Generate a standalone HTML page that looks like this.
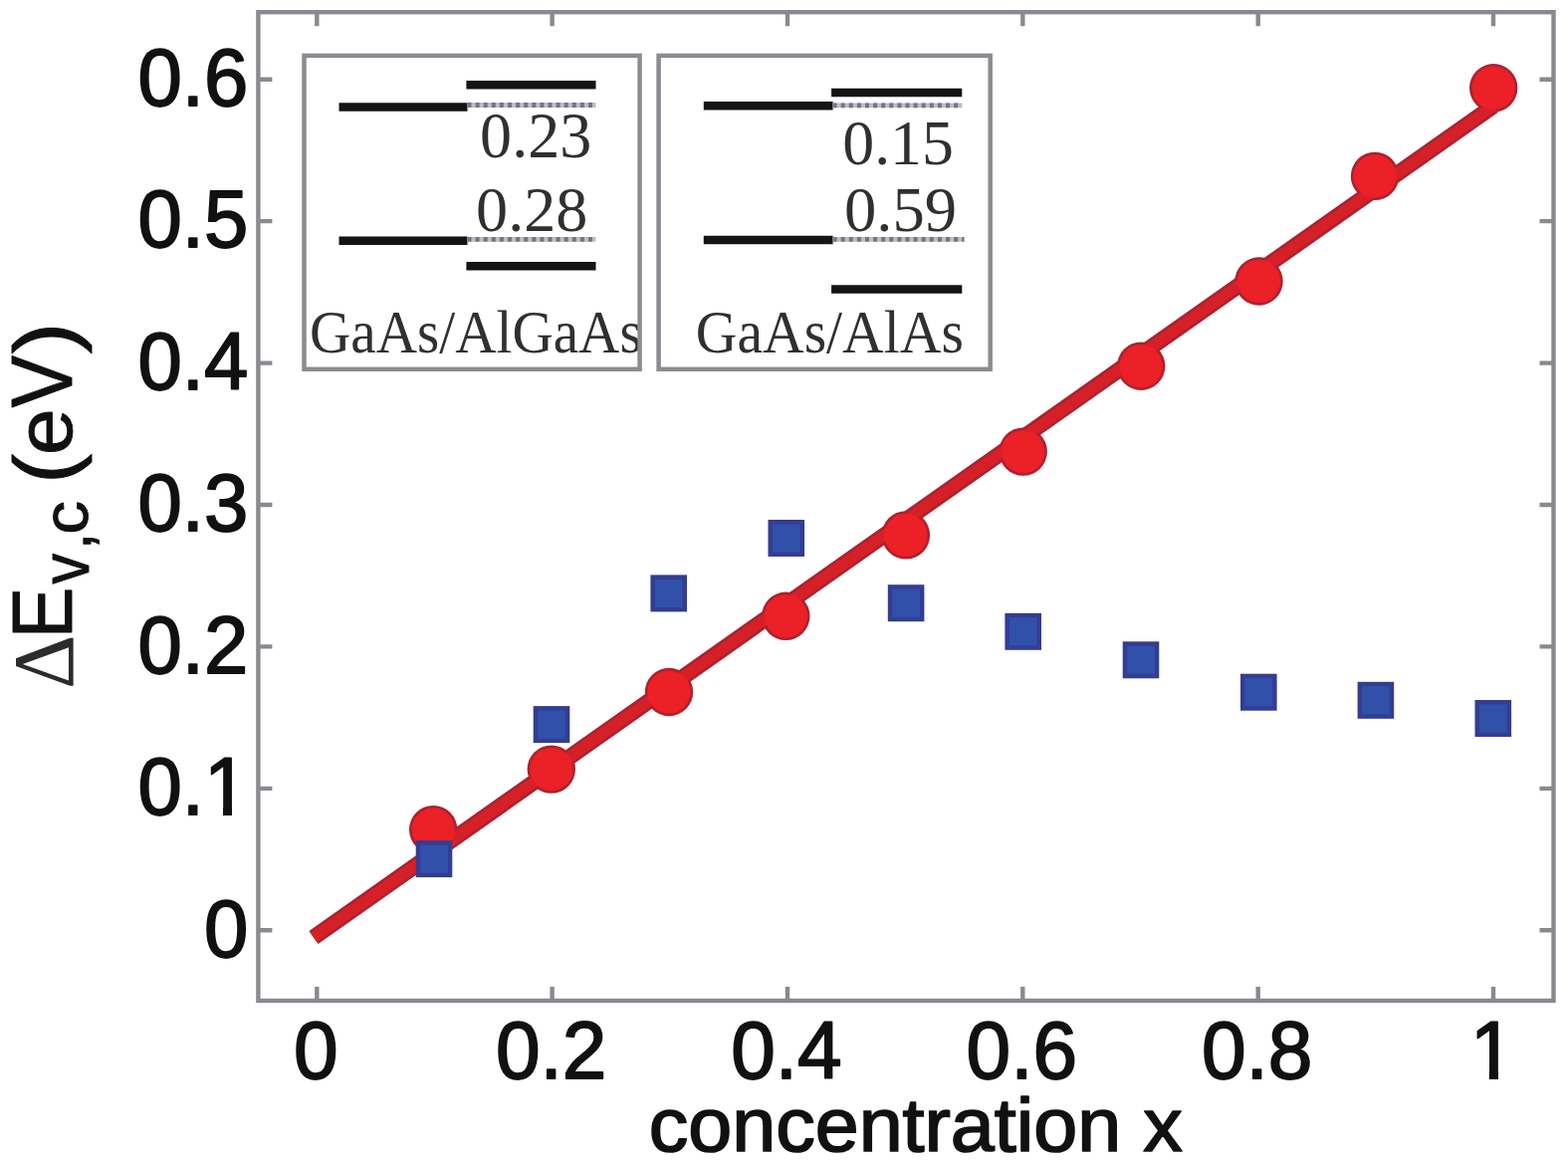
<!DOCTYPE html>
<html><head><meta charset="utf-8"><title>Band offsets vs concentration</title><style>
html,body{margin:0;padding:0;background:#fff;overflow:hidden}
svg{display:block}
.s{font-family:"Liberation Sans",Arial,sans-serif}
.r{font-family:"Liberation Serif","Times New Roman",serif}
</style></head><body>
<svg width="1575" height="1166" viewBox="0 0 1575 1166">
<defs><clipPath id="cy01" clipPathUnits="userSpaceOnUse"><rect x="0" y="0" width="356.55" height="1000"/><rect x="0" y="0" width="1600" height="392.05"/><rect x="374.34" y="391.05" width="9.15" height="30"/></clipPath><clipPath id="cx1" clipPathUnits="userSpaceOnUse"><rect x="0" y="0" width="379.06" height="1000"/><rect x="0" y="0" width="1600" height="392.05"/><rect x="396.85" y="391.05" width="9.15" height="30"/></clipPath></defs>
<rect width="1575" height="1166" fill="#fff"/>
<g stroke="#888a90" stroke-width="4.4" fill="none">
<rect x="259.4" y="12.2" width="1301.1" height="992.8"/>
<path d="M259.4 934.3h14M1560.5 934.3h-14M259.4 791.9h14M1560.5 791.9h-14M259.4 649.4h14M1560.5 649.4h-14M259.4 507.0h14M1560.5 507.0h-14M259.4 364.6h14M1560.5 364.6h-14M259.4 222.1h14M1560.5 222.1h-14M259.4 79.7h14M1560.5 79.7h-14M318.3 1005.0v-14M318.3 12.2v14M554.6 1005.0v-14M554.6 12.2v14M791.0 1005.0v-14M791.0 12.2v14M1027.3 1005.0v-14M1027.3 12.2v14M1263.7 1005.0v-14M1263.7 12.2v14M1500.0 1005.0v-14M1500.0 12.2v14"/>
</g>
<path d="M468.4 85.3H598.5" stroke="#141414" stroke-width="8.5"/>
<path d="M340.5 107.5H469.5" stroke="#141414" stroke-width="8.5"/>
<path d="M469.5 105.5H598.5" stroke="#bdbec1" stroke-width="4.8"/>
<path d="M469.5 105.5H598.5" stroke="#747782" stroke-width="4.8" stroke-dasharray="4 4.1"/>
<path d="M340.5 241.8H469.5" stroke="#141414" stroke-width="8.5"/>
<path d="M469.5 240.4H598.5" stroke="#bdbec1" stroke-width="4.8"/>
<path d="M469.5 240.4H598.5" stroke="#747782" stroke-width="4.8" stroke-dasharray="4 4.1"/>
<path d="M468.4 267.3H598.5" stroke="#141414" stroke-width="8.5"/>
<path d="M835.1 93.1H966.3" stroke="#141414" stroke-width="8.5"/>
<path d="M706.8 106.2H836.6" stroke="#141414" stroke-width="8.5"/>
<path d="M836.6 105.8H966.3" stroke="#bdbec1" stroke-width="4.8"/>
<path d="M836.6 105.8H966.3" stroke="#747782" stroke-width="4.8" stroke-dasharray="4 4.1"/>
<path d="M706.8 241.0H836.6" stroke="#141414" stroke-width="8.5"/>
<path d="M836.6 240.4H968.5" stroke="#bdbec1" stroke-width="4.8"/>
<path d="M836.6 240.4H968.5" stroke="#747782" stroke-width="4.8" stroke-dasharray="4 4.1"/>
<path d="M835.1 290.6H966.3" stroke="#141414" stroke-width="8.5"/>
<g transform="translate(81.34 -248.87) scale(1.0019 1.0167)"><text class="r" x="400" y="400" font-size="64" text-anchor="start" fill="#303030">0.23</text></g>
<g transform="translate(77.34 -164.74) scale(1.0019 0.9929)"><text class="r" x="400" y="400" font-size="64" text-anchor="start" fill="#303030">0.28</text></g>
<g transform="translate(446.96 -236.80) scale(0.9981 1.0048)"><text class="r" x="400" y="400" font-size="64" text-anchor="start" fill="#303030">0.15</text></g>
<g transform="translate(443.82 -166.50) scale(1.0104 0.9952)"><text class="r" x="400" y="400" font-size="64" text-anchor="start" fill="#303030">0.59</text></g>
<g transform="translate(-97.51 -77.50) scale(1.0214 1.0800)"><text class="r" x="400" y="400" font-size="56" text-anchor="start" fill="#303030">GaAs/AlGaAs</text></g>
<g transform="translate(286.76 -77.50) scale(1.0300 1.0800)"><text class="r" x="400" y="400" font-size="56" text-anchor="start" fill="#303030">GaAs/AlAs</text></g>
<g fill="none" stroke="#8a8c91" stroke-width="4.5"><rect x="305.5" y="55.9" width="337.1" height="314.9"/><rect x="661.6" y="55.9" width="333.1" height="314.9"/></g>
<path d="M315.0 941.5L1500.0 106.5" stroke="#ad2130" stroke-width="16.0" fill="none"/>
<g fill="#ad2130"><circle cx="435.2" cy="833.2" r="24.2"/><circle cx="553.8" cy="772.6" r="24.2"/><circle cx="672.0" cy="695.0" r="24.2"/><circle cx="789.3" cy="618.8" r="24.2"/><circle cx="909.9" cy="537.4" r="24.2"/><circle cx="1027.7" cy="453.6" r="24.2"/><circle cx="1146.2" cy="367.7" r="24.2"/><circle cx="1264.5" cy="282.5" r="24.2"/><circle cx="1381.0" cy="176.9" r="24.2"/><circle cx="1500.2" cy="88.3" r="24.2"/></g>
<path d="M315.0 941.5L1500.0 106.5" stroke="#d62027" stroke-width="10.8" fill="none"/>
<g fill="#ec2027"><circle cx="435.2" cy="833.2" r="21.6"/><circle cx="553.8" cy="772.6" r="21.6"/><circle cx="672.0" cy="695.0" r="21.6"/><circle cx="789.3" cy="618.8" r="21.6"/><circle cx="909.9" cy="537.4" r="21.6"/><circle cx="1027.7" cy="453.6" r="21.6"/><circle cx="1146.2" cy="367.7" r="21.6"/><circle cx="1264.5" cy="282.5" r="21.6"/><circle cx="1381.0" cy="176.9" r="21.6"/><circle cx="1500.2" cy="88.3" r="21.6"/></g>
<g fill="#3150aa" stroke="#333d92" stroke-width="4.4"><rect x="419.9" y="846.3" width="32.2" height="32.6"/><rect x="537.9" y="711.3" width="32.2" height="32.6"/><rect x="655.6" y="579.6" width="32.2" height="32.6"/><rect x="773.7" y="524.2" width="32.2" height="32.6"/><rect x="894.0" y="589.4" width="32.2" height="32.6"/><rect x="1011.6" y="618.0" width="32.2" height="32.6"/><rect x="1129.9" y="646.5" width="32.2" height="32.6"/><rect x="1248.2" y="678.9" width="32.2" height="32.6"/><rect x="1365.8" y="687.0" width="32.2" height="32.6"/><rect x="1483.7" y="705.2" width="32.2" height="32.6"/></g>
<g transform="translate(-144.39 561.94) scale(0.9841 0.9967)"><text class="s" x="400" y="400" font-size="81" text-anchor="end" fill="#111" stroke="#111" stroke-width="1.8" stroke-linejoin="round">0</text></g>
<g transform="translate(-144.39 419.51) scale(0.9841 0.9967)"><text class="s" x="400" y="400" font-size="81" text-anchor="end" fill="#111" stroke="#111" stroke-width="1.8" stroke-linejoin="round" clip-path="url(#cy01)">0.1</text></g>
<g transform="translate(-144.39 277.07) scale(0.9841 0.9967)"><text class="s" x="400" y="400" font-size="81" text-anchor="end" fill="#111" stroke="#111" stroke-width="1.8" stroke-linejoin="round">0.2</text></g>
<g transform="translate(-144.39 134.64) scale(0.9841 0.9967)"><text class="s" x="400" y="400" font-size="81" text-anchor="end" fill="#111" stroke="#111" stroke-width="1.8" stroke-linejoin="round">0.3</text></g>
<g transform="translate(-144.39 -7.79) scale(0.9841 0.9967)"><text class="s" x="400" y="400" font-size="81" text-anchor="end" fill="#111" stroke="#111" stroke-width="1.8" stroke-linejoin="round">0.4</text></g>
<g transform="translate(-144.39 -150.23) scale(0.9841 0.9967)"><text class="s" x="400" y="400" font-size="81" text-anchor="end" fill="#111" stroke="#111" stroke-width="1.8" stroke-linejoin="round">0.5</text></g>
<g transform="translate(-144.39 -292.66) scale(0.9841 0.9967)"><text class="s" x="400" y="400" font-size="81" text-anchor="end" fill="#111" stroke="#111" stroke-width="1.8" stroke-linejoin="round">0.6</text></g>
<g transform="translate(-78.59 679.48) scale(0.9897 1.0100)"><text class="s" x="400" y="400" font-size="81" text-anchor="middle" fill="#111" stroke="#111" stroke-width="1.8" stroke-linejoin="round">0</text></g>
<g transform="translate(157.75 679.48) scale(0.9897 1.0100)"><text class="s" x="400" y="400" font-size="81" text-anchor="middle" fill="#111" stroke="#111" stroke-width="1.8" stroke-linejoin="round">0.2</text></g>
<g transform="translate(394.09 679.48) scale(0.9897 1.0100)"><text class="s" x="400" y="400" font-size="81" text-anchor="middle" fill="#111" stroke="#111" stroke-width="1.8" stroke-linejoin="round">0.4</text></g>
<g transform="translate(630.43 679.48) scale(0.9897 1.0100)"><text class="s" x="400" y="400" font-size="81" text-anchor="middle" fill="#111" stroke="#111" stroke-width="1.8" stroke-linejoin="round">0.6</text></g>
<g transform="translate(866.77 679.48) scale(0.9897 1.0100)"><text class="s" x="400" y="400" font-size="81" text-anchor="middle" fill="#111" stroke="#111" stroke-width="1.8" stroke-linejoin="round">0.8</text></g>
<g transform="translate(1103.11 679.48) scale(0.9897 1.0100)"><text class="s" x="400" y="400" font-size="81" text-anchor="middle" fill="#111" stroke="#111" stroke-width="1.8" stroke-linejoin="round" clip-path="url(#cx1)">1</text></g>
<g transform="translate(256.49 772.08) scale(0.9881 0.9600)"><text class="s" x="400" y="400" font-size="80" text-anchor="start" fill="#111" stroke="#111" stroke-width="1.8" stroke-linejoin="round">concentration x</text></g>
<g transform="translate(-332.00 293.75) scale(1.0125 0.9958)"><text class="r" x="400" y="400" font-size="85" fill="#2c2c2c" transform="rotate(-90 400 400)">Δ</text></g>
<g transform="translate(-335.88 270.29) scale(1.0207 0.9283)"><text class="s" x="400" y="400" font-size="84" fill="#111" stroke="#111" stroke-width="0.9" stroke-linejoin="round" transform="rotate(-90 400 400)">E</text></g>
<g transform="translate(-321.59 220.72) scale(1.0257 0.9147)"><text class="s" x="400" y="400" font-size="67" fill="#111" stroke="#111" stroke-width="0.9" stroke-linejoin="round" transform="rotate(-90 400 400)">v</text></g>
<g transform="translate(-309.00 180.64) scale(1.0000 0.9286)"><text class="s" x="400" y="400" font-size="67" fill="#111" stroke="#111" stroke-width="0.9" stroke-linejoin="round" transform="rotate(-90 400 400)">,</text></g>
<g transform="translate(-300.38 134.05) scale(0.9703 1.0067)"><text class="s" x="400" y="400" font-size="67" fill="#111" stroke="#111" stroke-width="0.9" stroke-linejoin="round" transform="rotate(-90 400 400)">c</text></g>
<g transform="translate(-329.74 56.30) scale(1.0090 1.0739)"><text class="s" x="400" y="400" font-size="84" fill="#111" stroke="#111" stroke-width="0.9" stroke-linejoin="round" transform="rotate(-90 400 400)">(</text></g>
<g transform="translate(-311.07 57.00) scale(0.9565 1.0000)"><text class="s" x="400" y="400" font-size="84" fill="#111" stroke="#111" stroke-width="0.9" stroke-linejoin="round" transform="rotate(-90 400 400)">e</text></g>
<g transform="translate(-342.67 34.50) scale(1.0379 0.9375)"><text class="s" x="400" y="400" font-size="84" fill="#111" stroke="#111" stroke-width="0.9" stroke-linejoin="round" transform="rotate(-90 400 400)">V</text></g>
<g transform="translate(-329.74 -100.15) scale(1.0090 1.1391)"><text class="s" x="400" y="400" font-size="84" fill="#111" stroke="#111" stroke-width="0.9" stroke-linejoin="round" transform="rotate(-90 400 400)">)</text></g>
</svg>
</body></html>
